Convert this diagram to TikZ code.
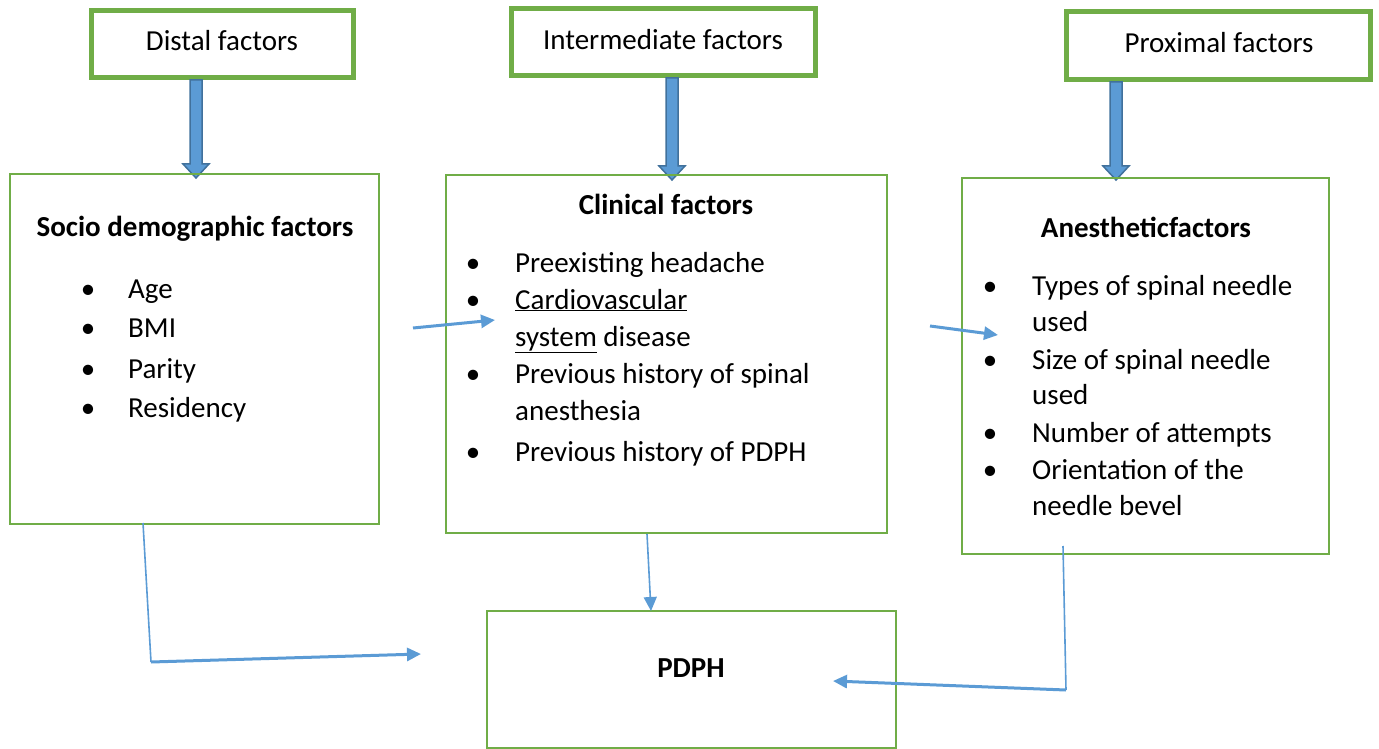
\documentclass[tikz,border=0pt]{standalone}
\usepackage{fontspec}
\setmainfont{Carlito}
\usetikzlibrary{arrows.meta}
\definecolor{gbox}{HTML}{70AD47}
\definecolor{bline}{HTML}{5B9BD5}
\definecolor{bdark}{HTML}{41719C}
\tikzset{
  mainbox/.style={draw=gbox, line width=2pt},
  txt/.style={anchor=base west, inner sep=0pt, font=\fontsize{29}{37}\selectfont},
  ctxt/.style={anchor=base, inner sep=0pt, font=\fontsize{29}{37}\selectfont},
  btxt/.style={anchor=base, inner sep=0pt, font=\fontsize{29}{37}\selectfont\bfseries},
  bul/.style={anchor=base, inner sep=0pt, font=\fontsize{29}{37}\selectfont},
  conn/.style={draw=bline, line width=3pt, -{Triangle[length=14pt,width=13pt]}},
  connthin/.style={draw=bline, line width=1.6pt},
  blockarrow/.style={fill=bline, draw=bdark, line width=1.5pt, line join=miter}
}
\newcommand{\blockarr}[3]{% x, ytop, ybottom
  \draw[blockarrow] (#1-6,#2) -- (#1+6,#2) -- (#1+6,#3-14) -- (#1+13,#3-14) -- (#1,#3) -- (#1-13,#3-14) -- (#1-6,#3-14) -- cycle;}
\begin{document}
\begin{tikzpicture}[x=1pt,y=-1pt]
\useasboundingbox (0,0) rectangle (1379,749);
% top boxes
\draw[gbox, line width=5pt] (91,11) rectangle (353,78);
\node[ctxt] (distal) at (222,51) {Distal factors};
\draw[gbox, line width=5pt] (511,9) rectangle (815,76);
\node[ctxt] (inter) at (663,50) {Intermediate factors};
\draw[gbox, line width=5pt] (1066,12) rectangle (1370,80);
\node[ctxt] (prox) at (1219,53) {Proximal factors};
% block arrows
\blockarr{196}{80}{178}
\blockarr{672}{78}{180}
\blockarr{1116}{82}{180}
% main boxes
\node[mainbox, minimum width=369pt, minimum height=350pt, inner sep=0pt] (socio) at (194.5,349) {};
\node[mainbox, minimum width=441pt, minimum height=358pt, inner sep=0pt] (clin) at (666.5,354) {};
\node[mainbox, minimum width=367pt, minimum height=376pt, inner sep=0pt] (anes) at (1145.5,366) {};
\node[mainbox, minimum width=409pt, minimum height=137pt, inner sep=0pt] (pdph) at (691.5,679.5) {};
% socio text
\node[btxt] (sh) at (195,236) {Socio demographic factors};
\node[bul] (sb1) at (88,298) {\textbullet};
\node[txt] (s1) at (128,298) {Age};
\node[bul] (sb2) at (88,337) {\textbullet};
\node[txt] (s2) at (128,337) {BMI};
\node[bul] (sb3) at (88,378) {\textbullet};
\node[txt] (s3) at (128,378) {Parity};
\node[bul] (sb4) at (88,417) {\textbullet};
\node[txt] (s4) at (128,417) {Residency};
% clinical text
\node[btxt] (ch) at (666,214) {Clinical factors};
\node[bul] (cb1) at (473,272) {\textbullet};
\node[txt] (c1) at (515,272) {Preexisting headache};
\node[bul] (cb2) at (473,309) {\textbullet};
\node[txt] (c2) at (515,309) {\underline{Cardiovascular}};
\node[txt] (c3) at (515,346) {\underline{system} disease};
\node[bul] (cb3) at (473,383) {\textbullet};
\node[txt] (c4) at (515,383) {Previous history of spinal};
\node[txt] (c5) at (515,420) {anesthesia};
\node[bul] (cb4) at (473,461) {\textbullet};
\node[txt] (c6) at (515,461) {Previous history of PDPH};
% anesthetic text
\node[btxt] (ah) at (1146,237) {Anestheticfactors};
\node[bul] (ab1) at (990,295) {\textbullet};
\node[txt] (a1) at (1032,295) {Types of spinal needle};
\node[txt] (a2) at (1032,331) {used};
\node[bul] (ab2) at (990,369) {\textbullet};
\node[txt] (a3) at (1032,369) {Size of spinal needle};
\node[txt] (a4) at (1032,404) {used};
\node[bul] (ab3) at (990,442) {\textbullet};
\node[txt] (a5) at (1032,442) {Number of attempts};
\node[bul] (ab4) at (990,479) {\textbullet};
\node[txt] (a6) at (1032,479) {Orientation of the};
\node[txt] (a7) at (1032,515) {needle bevel};
% PDPH text
\node[btxt] (pt) at (691,677) {PDPH};
% connectors
\coordinate (p1) at (413,328);
\coordinate (p1e) at (495,320);
\draw[conn] (p1) -- (p1e);
\coordinate (p2) at (930,326);
\coordinate (p2e) at (998,335);
\draw[conn] (p2) -- (p2e);
\coordinate (l1) at (143,523);
\coordinate (l2) at (151,662);
\coordinate (l3) at (421,654);
\draw[connthin] (l1) -- (l2);
\draw[conn] (l2) -- (l3);
\coordinate (m1) at (647,534);
\coordinate (m2) at (651,611);
\draw[connthin, -{Triangle[length=14pt,width=13pt]}] (m1) -- (m2);
\coordinate (r1) at (1063,546);
\coordinate (r2) at (1066,690);
\coordinate (r3) at (833,681);
\draw[connthin] (r1) -- (r2);
\draw[conn] (r2) -- (r3);
\end{tikzpicture}
\end{document}
